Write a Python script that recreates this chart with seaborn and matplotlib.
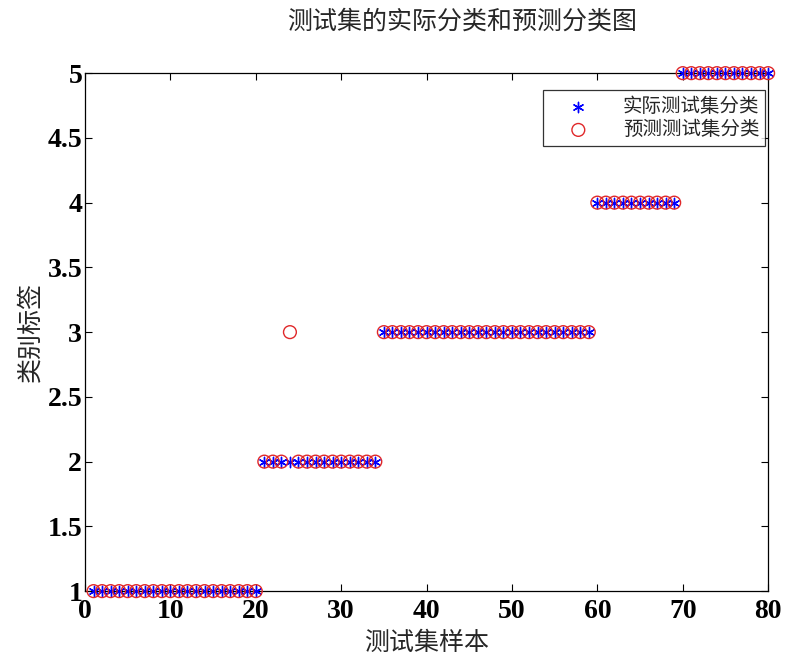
import numpy as np
import pandas as pd
import matplotlib
matplotlib.use("Agg")
import matplotlib.pyplot as plt
import seaborn as sns

# ---- data ----
class_labels = [1, 2, 3, 4, 5]
class_counts = [20, 14, 25, 10, 11]          # samples per actual class, in order
mismatch_index = [24]                        # sample numbers predicted wrongly
mismatch_pred = [3]                          # their predicted class

x_ticks = [0, 10, 20, 30, 40, 50, 60, 70, 80]
y_ticks = [1, 1.5, 2, 2.5, 3, 3.5, 4, 4.5, 5]
y_tick_labels = ["1", "1.5", "2", "2.5", "3", "3.5", "4", "4.5", "5"]

title = "测试集的实际分类和预测分类图"
xlabel = "测试集样本"
ylabel = "类别标签"
legend_labels = ["实际测试集分类", "预测测试集分类"]

# ---- build table ----
actual = np.repeat(class_labels, class_counts)
sample = np.arange(1, len(actual) + 1)
pred = actual.copy()
for i, p in zip(mismatch_index, mismatch_pred):
    pred[i - 1] = p
df = pd.DataFrame({"sample": sample, "actual": actual, "pred": pred})

sns.set_style("ticks")
plt.rcParams["font.family"] = ["Noto Sans CJK SC", "DejaVu Sans"]

fig = plt.figure(figsize=(7.87, 6.59), dpi=100)
ax = fig.add_axes([0.108, 0.103, 0.868, 0.786])

sns.scatterplot(data=df, x="sample", y="actual", ax=ax, marker=(6, 2, 0),
                s=55, color="#0000ff", linewidth=1.0, edgecolor="#0000ff",
                label=legend_labels[0], zorder=3, clip_on=False)
sns.scatterplot(data=df, x="sample", y="pred", ax=ax, marker="o",
                s=85, facecolor="none", edgecolor="#e0282a", linewidth=1.0,
                label=legend_labels[1], zorder=4, clip_on=False)

ax.set_xlim(0, 80)
ax.set_ylim(1, 5)
ax.set_xticks(x_ticks)
ax.set_yticks(y_ticks)
ax.set_yticklabels(y_tick_labels)
for lab in ax.get_xticklabels() + ax.get_yticklabels():
    lab.set_family("Liberation Serif")
    lab.set_fontweight("bold")
    lab.set_fontsize(20)
ax.tick_params(direction="in", length=5, width=0.8, top=True, right=True,
               colors="black")
ax.tick_params(axis="y", pad=2)
ax.tick_params(axis="x", pad=6)
for s in ax.spines.values():
    s.set_visible(True)
    s.set_color("black")
    s.set_linewidth(0.9)

ax.set_xlabel(xlabel, fontsize=18, labelpad=4)
ax.set_ylabel(ylabel, fontsize=18, labelpad=3)
fig.text(0.587, 0.967, title, fontsize=18, ha="center", va="center")

leg = ax.legend(loc="upper right", bbox_to_anchor=(0.996, 0.967),
                fontsize=14, frameon=True, fancybox=False, edgecolor="black",
                borderpad=0.3, handletextpad=0.8, labelspacing=0.1,
                borderaxespad=0, handlelength=3.0)
leg.get_frame().set_linewidth(0.9)

fig.savefig("out.png", dpi=100)
